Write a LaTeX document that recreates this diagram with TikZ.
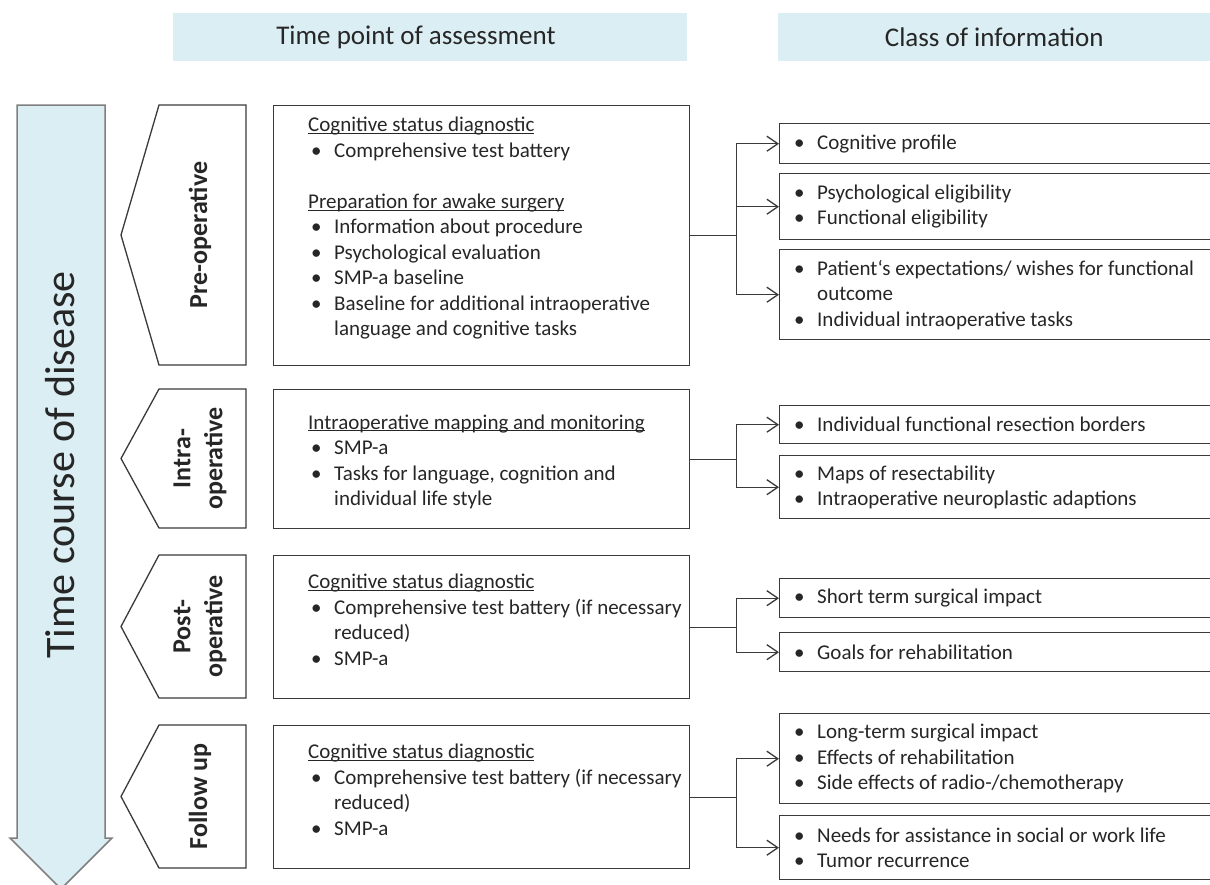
\documentclass[tikz,border=0pt]{standalone}
\usepackage{fontspec}
\setmainfont{Carlito}
\usepackage{tikz}
\usetikzlibrary{arrows.meta,positioning}
\definecolor{ink}{HTML}{262626}
\definecolor{pale}{HTML}{DBEEF4}
\definecolor{edge}{HTML}{3A3A3A}
\definecolor{shaft}{HTML}{7F7F7F}
\newcommand{\bul}{\makebox[26pt][l]{\hspace{3pt}\textbullet}}
\newcommand{\hdline}[1]{\underline{\smash{#1}}}
\tikzset{
  box/.style={draw=edge, line width=1.4pt, rectangle, inner sep=0pt},
  txt/.style={text=ink, align=left, inner sep=0pt, anchor=west, font=\fontsize{21}{25.5}\selectfont},
  phase/.style={draw=edge, line width=1.3pt, fill=white, line join=miter},
  plab/.style={text=ink, rotate=90, align=center, font=\bfseries\fontsize{26}{32}\selectfont},
  head/.style={fill=pale, minimum height=48pt, inner sep=0pt, anchor=north west},
  hlab/.style={text=ink, font=\fontsize{27}{32}\selectfont},
  link/.style={draw=edge, line width=1.3pt},
  feed/.style={link, -{Straight Barb[length=11pt,width=15pt]}},
}

\begin{document}
\begin{tikzpicture}[x=1pt,y=-1pt]
  \useasboundingbox (0,0) rectangle (1210,884);
  % column headers
  \node[head, minimum width=514pt] (hdtime) at (173,13) {};
  \node[hlab] (hdtime-txt) at (416,37) {Time point of assessment};
  \node[head, minimum width=432pt] (hdclass) at (778,13) {};
  \node[hlab] (hdclass-txt) at (hdclass.center) {Class of information};

  % time axis
  \draw[draw=shaft, fill=pale, line width=1.5pt] (17,105) -- (105,105) -- (105,838) -- (112,838)
    -- (61,889) -- (10,838) -- (17,838) -- cycle;
  \node[rotate=90, text=ink, font=\fontsize{42}{50}\selectfont] (course) at (60,465) {Time course of disease};

  % phases and assessment boxes
  \foreach \nm/\top/\bot/\lab in {pre/105/365/Pre-operative, intra/389/528/{Intra-\\operative},
      post/555/698/{Post-\\operative}, fol/725/868/Follow up} {
    \pgfmathsetmacro\mid{(\top+\bot)/2}
    \pgfmathsetmacro\hh{\bot-\top}
    \draw[phase] (159,\top) -- (246,\top) -- (246,\bot) -- (159,\bot) -- (121,\mid) -- cycle;
    \node[plab] (\nm-lab) at (200,\mid) {\lab};
    \node[box, minimum width=416pt, minimum height=\hh pt, anchor=north west] (\nm-box) at (273,\top) {};
  }

  \node[txt] (pre-txt) at ([xshift=35pt]pre-box.west) {\hdline{Cognitive status diagnostic}\\
    \bul Comprehensive test battery\\[25.5pt]
    \hdline{Preparation for awake surgery}\\
    \bul Information about procedure\\
    \bul Psychological evaluation\\
    \bul SMP-a baseline\\
    \bul Baseline for additional intraoperative\\
    \hspace*{26pt}language and cognitive tasks};
  \node[txt] (intra-txt) at ([xshift=35pt,yshift=-10pt]intra-box.west) {\hdline{Intraoperative mapping and monitoring}\\
    \bul SMP-a\\
    \bul Tasks for language, cognition and\\
    \hspace*{26pt}individual life style};
  \node[txt] (post-txt) at ([xshift=35pt]post-box.west) {\hdline{Cognitive status diagnostic}\\
    \bul Comprehensive test battery (if necessary\\
    \hspace*{26pt}reduced)\\
    \bul SMP-a};
  \node[txt] (fol-txt) at ([xshift=35pt]fol-box.west) {\hdline{Cognitive status diagnostic}\\
    \bul Comprehensive test battery (if necessary\\
    \hspace*{26pt}reduced)\\
    \bul SMP-a};

  % classes of information
  \foreach \nm/\top/\bot in {cog/123/163, elig/173/239, expc/249/339, resb/405/443, maps/455/518,
      short/578/617, goals/632/671, longt/713/803, needs/815/879} {
    \pgfmathsetmacro\hh{\bot-\top}
    \node[box, minimum width=436pt, minimum height=\hh pt, anchor=north west] (\nm) at (779,\top) {};
  }

  \node[txt] (cog-txt) at ([xshift=12pt]cog.west) {\bul Cognitive profile};
  \node[txt] (elig-txt) at ([xshift=12pt]elig.west) {\bul Psychological eligibility\\ \bul Functional eligibility};
  \node[txt] (expc-txt) at ([xshift=12pt]expc.west) {\bul Patient‘s expectations/ wishes for functional\\
    \hspace*{26pt}outcome\\ \bul Individual intraoperative tasks};
  \node[txt] (resb-txt) at ([xshift=12pt]resb.west) {\bul Individual functional resection borders};
  \node[txt] (maps-txt) at ([xshift=12pt]maps.west) {\bul Maps of resectability\\ \bul Intraoperative neuroplastic adaptions};
  \node[txt] (short-txt) at ([xshift=12pt]short.west) {\bul Short term surgical impact};
  \node[txt] (goals-txt) at ([xshift=12pt]goals.west) {\bul Goals for rehabilitation};
  \node[txt] (longt-txt) at ([xshift=12pt]longt.west) {\bul Long-term surgical impact\\ \bul Effects of rehabilitation\\
    \bul Side effects of radio-/chemotherapy};
  \node[txt] (needs-txt) at ([xshift=12pt]needs.west) {\bul Needs for assistance in social or work life\\ \bul Tumor recurrence};

  % connectors
  \foreach \src/\outs in {pre/{cog,elig,expc}, intra/{resb,maps}, post/{short,goals}, fol/{longt,needs}} {
    \draw[link] (\src-box.east) -- ++(46,0) coordinate (\src-j);
    \foreach \o in \outs
      \draw[feed] (\src-j) |- (\o.west);
  }
\end{tikzpicture}
\end{document}
